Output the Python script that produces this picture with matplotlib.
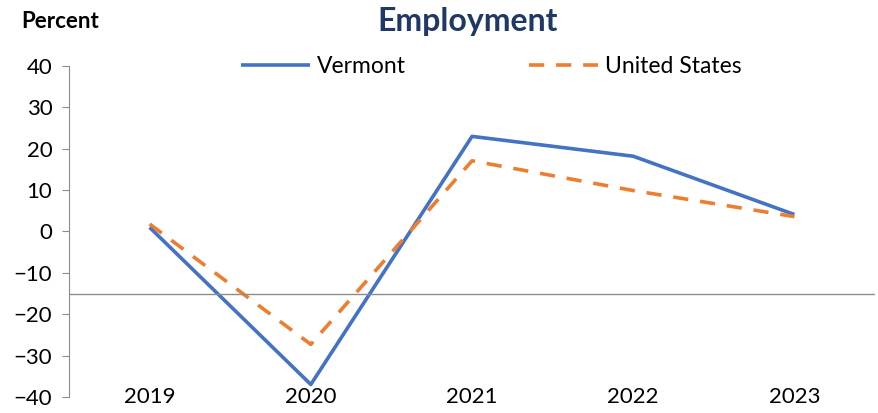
import numpy as np
import matplotlib
matplotlib.use("Agg")
import matplotlib.pyplot as plt

plt.rcParams['font.family'] = ['Lato', 'DejaVu Sans']

years = ["2019", "2020", "2021", "2022", "2023"]
vermont = [1.0, -37.0, 23.0, 18.2, 4.1]
united_states = [1.8, -27.3, 17.1, 9.9, 3.6]

fig = plt.figure(figsize=(8.79, 4.13), dpi=100)
ax = fig.add_axes([0.0785, 0.039, 0.917, 0.801])

x = np.arange(len(years))
ax.plot(x, vermont, color="#4472C4", lw=2.6, label="Vermont", solid_capstyle="butt")
ax.plot(x, united_states, color="#ED7D31", lw=2.6, ls=(0, (4.2, 3.3)), label="United States")

ax.set_xlim(-0.5, len(years) - 0.5)
ax.set_ylim(-40, 40)
ax.set_yticks(range(-40, 41, 10))
ax.set_xticks(x)
ax.set_xticklabels(years)
ax.axhline(-15, color="#8c8c8c", lw=1)

for s in ["top", "right", "bottom"]:
    ax.spines[s].set_visible(False)
ax.spines["left"].set_color("#8c8c8c")
ax.tick_params(axis="y", length=5, color="#8c8c8c", labelsize=16, pad=7)
ax.tick_params(axis="x", length=0, labelsize=16, pad=-7)

fig.text(0.024, 0.949, "Percent", fontsize=16, fontweight="bold", va="center")
fig.text(0.532, 0.947, "Employment", fontsize=23, fontweight="bold", color="#1F3864",
         ha="center", va="center")

ax.legend(loc="center", bbox_to_anchor=(0.559, 0.838), bbox_transform=fig.transFigure,
          ncol=2, frameon=False, fontsize=16.5, handlelength=3.0, handletextpad=0.3,
          columnspacing=5.4)

fig.savefig("out.png", dpi=100)
